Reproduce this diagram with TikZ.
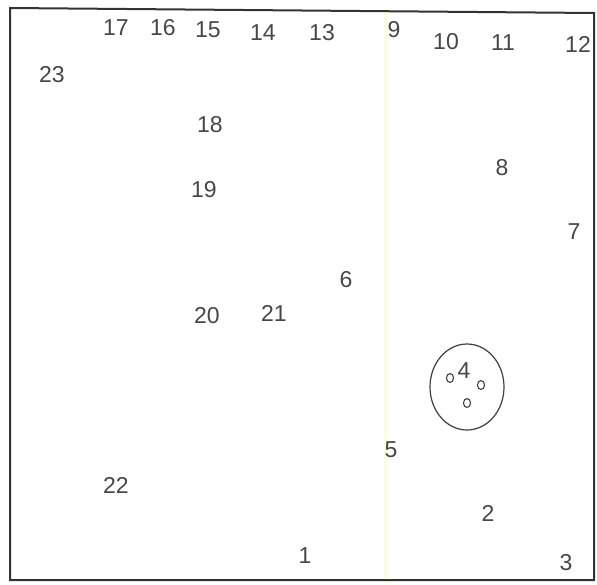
\documentclass[tikz,border=0pt]{standalone}
\usepackage{fontspec}
\usetikzlibrary{shapes.geometric}
\setmainfont{Liberation Sans}
\begin{document}
\begin{tikzpicture}[x=1pt,y=-1pt,
  lbl/.style={font=\fontsize{23}{23}\selectfont, text=black!72, inner sep=0pt},
  hole/.style={draw=black!75, line width=1.1pt, ellipse, minimum width=7pt, minimum height=9pt, inner sep=0pt}]
\useasboundingbox (0,0) rectangle (597,584);
\fill[white] (0,0) rectangle (597,584);
% faint page fold
\draw[yellow!12!white, line width=3pt] (385,12) -- (385,580);
% frame
\draw[black!80, line width=2pt] (10,8) -- (594,13) -- (594,580) -- (10,580) -- cycle;
% top row
\node[lbl] (n17) at (116,28) {17};
\node[lbl] (n16) at (163,28) {16};
\node[lbl] (n15) at (208,30) {15};
\node[lbl] (n14) at (263,33) {14};
\node[lbl] (n13) at (322,33) {13};
\node[lbl] (n9) at (394,30) {9};
\node[lbl] (n10) at (446,42) {10};
\node[lbl] (n11) at (503,43) {11};
\node[lbl] (n12) at (578,44) {12};
% others
\node[lbl] (n23) at (52,75) {23};
\node[lbl] (n18) at (210,125) {18};
\node[lbl] (n8) at (502,168) {8};
\node[lbl] (n19) at (204,190) {19};
\node[lbl] (n7) at (574,232) {7};
\node[lbl] (n6) at (346,280) {6};
\node[lbl] (n20) at (207,316) {20};
\node[lbl] (n21) at (274,313) {21};
\node[lbl] (n5) at (391,450) {5};
\node[lbl] (n22) at (116,485) {22};
\node[lbl] (n2) at (488,513) {2};
\node[lbl] (n1) at (305,556) {1};
\node[lbl] (n3) at (566,563) {3};
% circle with 4
\draw[black!75, line width=1.2pt] (467,387) ellipse [x radius=37, y radius=43];
\node[lbl] (n4) at (464,371) {4};
\node[hole] (h1) at (450,378) {};
\node[hole] (h2) at (481,385) {};
\node[hole] (h3) at (467,403) {};
\end{tikzpicture}
\end{document}
